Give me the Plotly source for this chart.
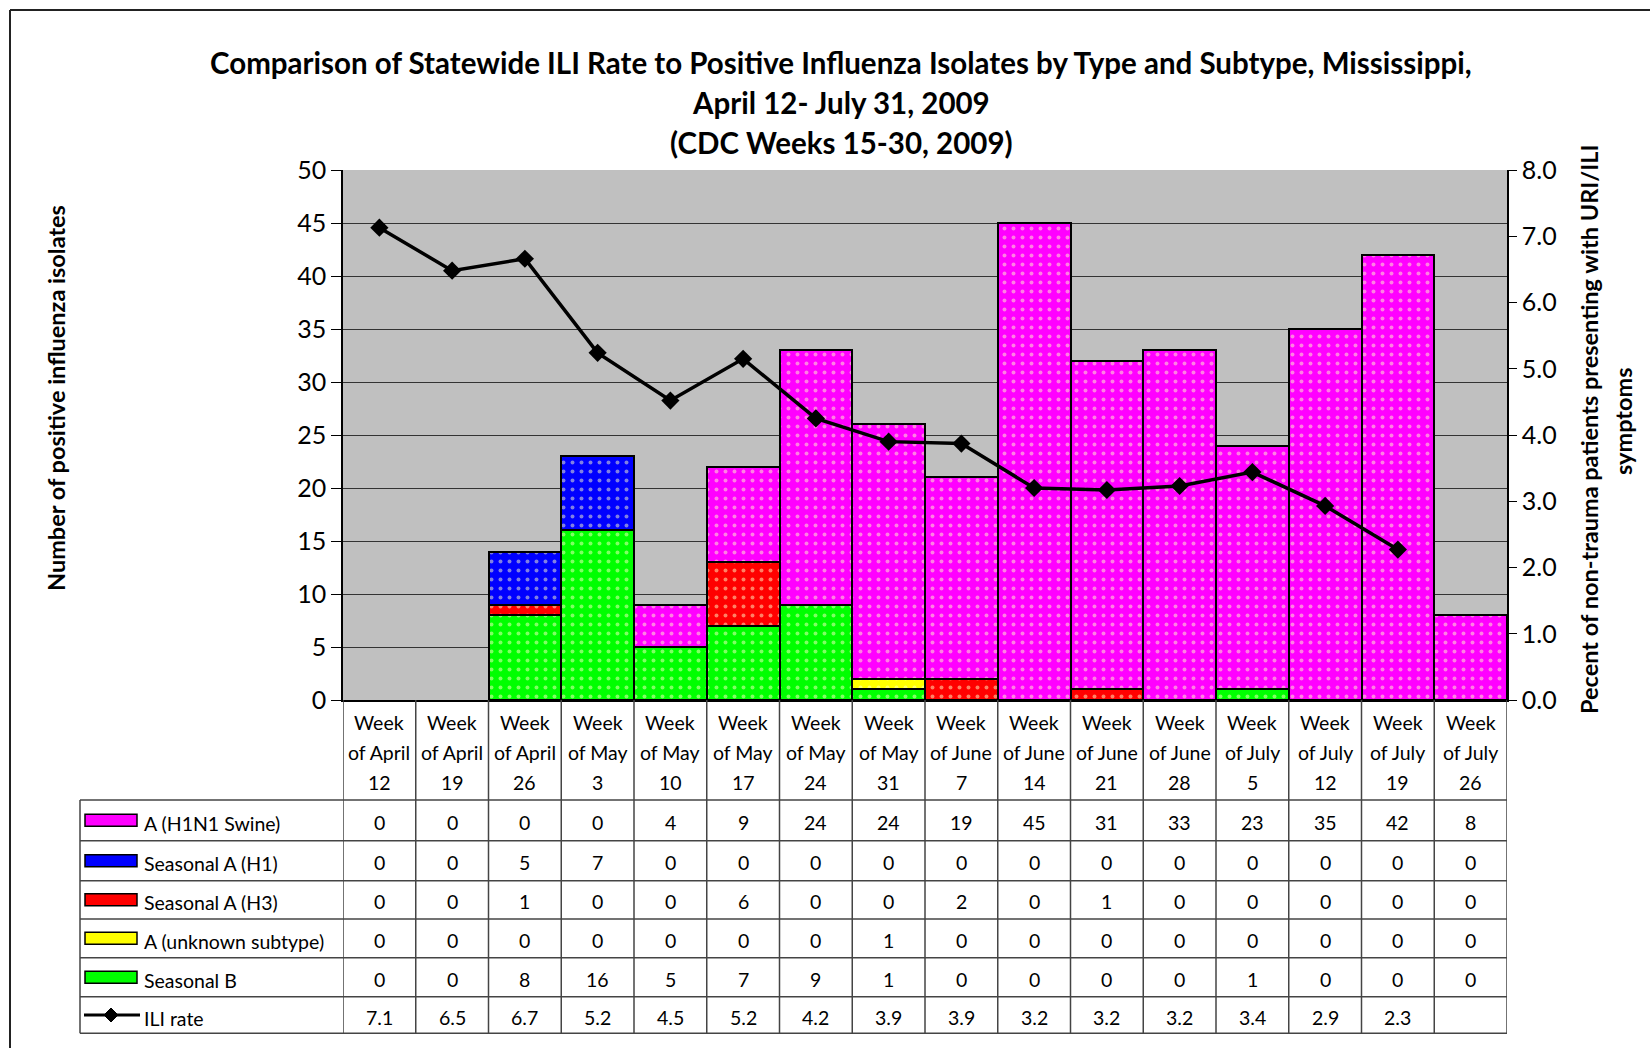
import plotly.graph_objects as go

# ---------------- data ----------------
week_month = ["April", "April", "April", "May", "May", "May", "May", "May",
              "June", "June", "June", "June", "July", "July", "July", "July"]
week_day = ["12", "19", "26", "3", "10", "17", "24", "31",
            "7", "14", "21", "28", "5", "12", "19", "26"]

h1n1_swine = [0, 0, 0, 0, 4, 9, 24, 24, 19, 45, 31, 33, 23, 35, 42, 8]
seasonal_h1 = [0, 0, 5, 7, 0, 0, 0, 0, 0, 0, 0, 0, 0, 0, 0, 0]
seasonal_h3 = [0, 0, 1, 0, 0, 6, 0, 0, 2, 0, 1, 0, 0, 0, 0, 0]
a_unknown = [0, 0, 0, 0, 0, 0, 0, 1, 0, 0, 0, 0, 0, 0, 0, 0]
seasonal_b = [0, 0, 8, 16, 5, 7, 9, 1, 0, 0, 0, 0, 1, 0, 0, 0]
ili_rate = [7.13, 6.48, 6.66, 5.24, 4.52, 5.15, 4.25, 3.90, 3.87, 3.20,
            3.17, 3.23, 3.44, 2.93, 2.27, None]

series_names = ["A (H1N1 Swine)", "Seasonal A (H1)", "Seasonal A (H3)",
                "A (unknown subtype)", "Seasonal B"]
series_values = [h1n1_swine, seasonal_h1, seasonal_h3, a_unknown, seasonal_b]
series_colors = ["#FF00FF", "#0000FF", "#FF0000", "#FFFF00", "#00FF00"]

title_lines = ["Comparison of Statewide ILI Rate to Positive Influenza Isolates by Type and Subtype, Mississippi,",
               "April 12- July 31, 2009",
               "(CDC Weeks 15-30, 2009)"]
left_title = "Number of positive influenza isolates"
right_title_1 = "Pecent of non-trauma patients presenting with URI/ILI"
right_title_2 = "symptoms"

categories = [f"Week of {m} {d}" for m, d in zip(week_month, week_day)]

# ---------------- layout geometry (pixels) ----------------
W, H = 1650, 1048
L, R, T, B = 343, 143, 170, 348
PW = W - L - R
PH = H - T - B
Y0 = H - B  # pixel y of plot bottom


def px(xp):
    return (xp - L) / PW


def py(yp):
    return (Y0 - yp) / PH


FONT = "Lato, Carlito, 'Open Sans', sans-serif"
TBL_SIZE = 19.5

fig = go.Figure()

# stacked bars, bottom to top: B, unknown, H3, H1, Swine
for idx in [4, 3, 2, 1, 0]:
    vals = series_values[idx]
    fig.add_trace(go.Bar(
        x=categories,
        y=[v if v else None for v in vals],
        name=series_names[idx],
        marker=dict(
            color=series_colors[idx],
            line=dict(color="black", width=2),
            pattern=dict(shape=".", fillmode="overlay", fgcolor="#FFFFC8",
                         size=9, solidity=0.15),
        ),
        showlegend=False,
    ))

fig.add_trace(go.Scatter(
    x=categories, y=ili_rate, yaxis="y2", mode="lines+markers",
    line=dict(color="black", width=3.5),
    marker=dict(symbol="diamond", size=14, color="black"),
    showlegend=False, name="ILI rate",
))

shapes = []
annotations = []

# title
for t, yp in zip(title_lines, [62, 102, 142]):
    annotations.append(dict(text=f"<b>{t}</b>", x=px(841), y=py(yp), xref="paper", yref="paper",
                            showarrow=False, xanchor="center", yanchor="middle",
                            font=dict(family=FONT, size=29.5, color="black")))

# axis titles
annotations.append(dict(text=f"<b>{left_title}</b>", x=px(56), y=py(398), xref="paper", yref="paper",
                        showarrow=False, textangle=-90, xanchor="center", yanchor="middle",
                        font=dict(family=FONT, size=23.5, color="black")))
annotations.append(dict(text=f"<b>{right_title_1}</b>", x=px(1589), y=py(430), xref="paper", yref="paper",
                        showarrow=False, textangle=-90, xanchor="center", yanchor="middle",
                        font=dict(family=FONT, size=23.5, color="black")))
annotations.append(dict(text=f"<b>{right_title_2}</b>", x=px(1623), y=py(421), xref="paper", yref="paper",
                        showarrow=False, textangle=-90, xanchor="center", yanchor="middle",
                        font=dict(family=FONT, size=23.5, color="black")))

# outer frame (top and left)
shapes.append(dict(type="line", xref="paper", yref="paper", x0=px(10), x1=px(1660), y0=py(10), y1=py(10),
                   line=dict(color="#222", width=2)))
shapes.append(dict(type="line", xref="paper", yref="paper", x0=px(10), x1=px(10), y0=py(10), y1=py(1060),
                   line=dict(color="#222", width=2)))

# table geometry
row_lines = [800, 840.7, 880.7, 919, 957.7, 996.7, 1033.3]
row_centers = [(row_lines[i] + row_lines[i + 1]) / 2 for i in range(6)]
tbl_left = 80
tbl_right = L + PW
line_col = "#444"

for k in range(len(categories) + 1):
    shapes.append(dict(type="line", xref="x", yref="paper", x0=k - 0.5, x1=k - 0.5,
                       y0=py(Y0), y1=py(row_lines[-1]), line=dict(color=line_col, width=1.5)))
for yl in row_lines:
    shapes.append(dict(type="line", xref="paper", yref="paper", x0=px(tbl_left), x1=px(tbl_right),
                       y0=py(yl), y1=py(yl), line=dict(color=line_col, width=1.5)))
shapes.append(dict(type="line", xref="paper", yref="paper", x0=px(tbl_left), x1=px(tbl_left),
                   y0=py(row_lines[0]), y1=py(row_lines[-1]), line=dict(color=line_col, width=1.5)))

# header row (week labels)
for c, m, d in zip(categories, week_month, week_day):
    for txt, yp in zip(["Week", f"of {m}", d], [722, 752, 782]):
        annotations.append(dict(text=txt, x=c, y=py(yp), xref="x", yref="paper", showarrow=False,
                                xanchor="center", yanchor="middle",
                                font=dict(family=FONT, size=TBL_SIZE, color="black")))

# data rows
for r, (name, vals, col) in enumerate(zip(series_names, series_values, series_colors)):
    yc = row_centers[r]
    shapes.append(dict(type="rect", xref="paper", yref="paper", x0=px(85), x1=px(137),
                       y0=py(yc - 6), y1=py(yc + 6), fillcolor=col, line=dict(color="black", width=1.5)))
    annotations.append(dict(text=name, x=px(142), y=py(yc + 3), xref="paper", yref="paper", showarrow=False,
                            xanchor="left", yanchor="middle",
                            font=dict(family=FONT, size=TBL_SIZE, color="black")))
    for c, v in zip(categories, vals):
        annotations.append(dict(text=str(v), x=c, y=py(yc + 2), xref="x", yref="paper", showarrow=False,
                                xanchor="center", yanchor="middle",
                                font=dict(family=FONT, size=TBL_SIZE, color="black")))

# ILI rate row
yc = row_centers[5]
shapes.append(dict(type="line", xref="paper", yref="paper", x0=px(84), x1=px(140), y0=py(yc), y1=py(yc),
                   line=dict(color="black", width=3)))
dx, dy = 7, 7
shapes.append(dict(type="path", xref="paper", yref="paper",
                   path=f"M {px(111)},{py(yc - dy)} L {px(111 + dx)},{py(yc)} L {px(111)},{py(yc + dy)} L {px(111 - dx)},{py(yc)} Z",
                   fillcolor="black", line=dict(color="black", width=1)))
annotations.append(dict(text="ILI rate", x=px(142), y=py(yc + 3), xref="paper", yref="paper", showarrow=False,
                        xanchor="left", yanchor="middle",
                        font=dict(family=FONT, size=TBL_SIZE, color="black")))
for c, v in zip(categories, ili_rate):
    annotations.append(dict(text="" if v is None else f"{v:.1f}", x=c, y=py(yc + 2), xref="x", yref="paper",
                            showarrow=False, xanchor="center", yanchor="middle",
                            font=dict(family=FONT, size=TBL_SIZE, color="black")))

fig.update_layout(
    width=W, height=H, autosize=False,
    margin=dict(l=L, r=R, t=T, b=B, pad=0),
    paper_bgcolor="white", plot_bgcolor="#C0C0C0",
    barmode="stack", bargap=0,
    showlegend=False,
    font=dict(family=FONT, color="black"),
    xaxis=dict(type="category", showticklabels=False, ticks="", showgrid=False,
               showline=True, linecolor="black", linewidth=2, zeroline=False,
               range=[-0.5, 15.5]),
    yaxis=dict(range=[0, 50], dtick=5, showgrid=True, gridcolor="#333333", gridwidth=1,
               showline=True, linecolor="black", linewidth=1.5, ticks="outside", ticklen=10,
               tickcolor="black", tickfont=dict(family=FONT, size=25, color="black"), zeroline=False),
    yaxis2=dict(range=[0, 8], dtick=1, tickformat=".1f", overlaying="y", side="right",
                showgrid=False, showline=True, linecolor="black", linewidth=1.5,
                ticks="outside", ticklen=8, tickcolor="black",
                tickfont=dict(family=FONT, size=25, color="black"), zeroline=False),
    shapes=shapes,
    annotations=annotations,
)

fig.write_html("out.html", config={"displayModeBar": False},
               post_script="document.body.style.margin='0';")
